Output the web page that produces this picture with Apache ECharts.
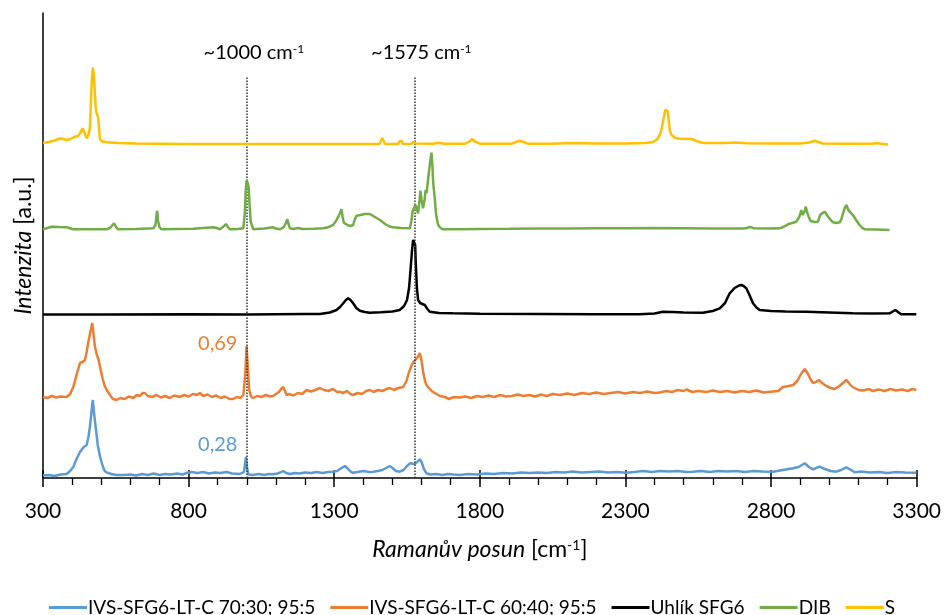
<!DOCTYPE html>
<html>
<head>
<meta charset="utf-8">
<script src="https://cdn.jsdelivr.net/npm/echarts@6/dist/echarts.min.js"></script>
<style>
html,body{margin:0;padding:0;background:#fff;}
#chart{width:944px;height:615px;}
</style>
</head>
<body>
<div id="chart"></div>
<script>
// ---- Data (Raman shift [cm-1], intensity in arbitrary stacked units) ----
const seriesNames = ['IVS-SFG6-LT-C 70:30; 95:5', 'IVS-SFG6-LT-C 60:40; 95:5', 'Uhlík SFG6', 'DIB', 'S'];
const seriesColors = ['#5B9BD5', '#ED7D31', '#000000', '#70AD47', '#FFC000'];
const xTickValues = [300, 800, 1300, 1800, 2300, 2800, 3300];
const markerPositions = [1000, 1575];
const markerTexts = ['~1000 cm{s|-1}', '~1575 cm{s|-1}'];
const ratioTexts = ['0,69', '0,28'];
const ratioPositions = [[900, 139], [900, 38.5]];

const blueSpectrum = [[300,7.5],[320,8],[340,7],[360,8.5],[381,9],[393,12],[404,16],[415,24],[427,31],[440,36],[450,38],[456,46],[461,56],[466,70],[471,83],[476,68],[482,53],[488,38],[496,26],[505,17],[512,12],[519,10.5],[535,9],[550,8],[576,8],[600,8.5],[620,7.5],[640,9],[660,8],[680,9.5],[700,8],[720,9],[740,8.5],[760,9.5],[780,8.5],[793,10],[810,11],[830,10],[850,11],[870,9.5],[890,10.5],[910,10],[930,11],[950,9.5],[976,9],[990,11],[997,26],[1001,15],[1005,8.5],[1020,8],[1040,9],[1060,8],[1075,9],[1090,8.7],[1105,9.5],[1115,10.5],[1125,12],[1135,10],[1148,9],[1165,10],[1180,9.5],[1200,10.5],[1220,10],[1240,11],[1260,10],[1280,11],[1296,11.3],[1310,12],[1325,15],[1337,17],[1348,14],[1358,11],[1365,10.3],[1380,11],[1400,12],[1420,11],[1434,11.3],[1450,12],[1465,13],[1478,15],[1491,17],[1500,15],[1512,12],[1525,11.3],[1538,13],[1550,17],[1560,19.7],[1575,19],[1585,21],[1594,23.7],[1600,21],[1608,14],[1617,9.7],[1630,8.5],[1650,9],[1670,8],[1690,9],[1710,8.5],[1731,8],[1760,9],[1790,8.5],[1820,9.5],[1850,9],[1880,10],[1910,9.5],[1940,10.5],[1970,10],[2000,10.5],[2030,10],[2060,11],[2090,10.5],[2120,11.5],[2150,10.5],[2180,11],[2210,11.5],[2240,10.5],[2270,11],[2304,10.3],[2330,11],[2360,12],[2390,11],[2420,12],[2450,11.5],[2480,12],[2510,11],[2532,11.3],[2560,12],[2590,11],[2620,12],[2650,11.5],[2680,12],[2710,11],[2740,12],[2770,11.5],[2807,11.3],[2840,13],[2876,14.7],[2895,16],[2916,19.7],[2930,16],[2944,13.7],[2955,15],[2967,16.3],[2985,14],[3005,12],[3024,11.3],[3040,13],[3059,15.7],[3075,13],[3087,10.7],[3110,11.5],[3140,10.5],[3170,11],[3200,10],[3230,11],[3260,10.5],[3299,10.3]];

const orangeSpectrum = [[300,86],[315,85],[330,87],[345,85.5],[360,86.5],[381,86],[393,89],[404,96],[415,108],[427,120],[436,121],[444,123],[450,131],[455,140],[462,150],[469,160],[473,150],[478,137],[485,128],[490,124],[496,116],[505,104],[512,97],[519,93],[530,88],[540,84],[553,83],[565,85],[580,84],[595,86.5],[610,85],[622,88],[633,87],[642,90],[650,90],[660,87],[675,86],[690,88],[705,85.5],[720,87],[735,85],[750,87.5],[770,86],[785,88],[800,86.5],[815,89],[830,88],[839,90],[850,87],[865,88.5],[880,86],[895,87.5],[910,85],[925,86.5],[940,84],[953,84],[965,86],[978,85],[988,88],[995,110],[999,137],[1003,118],[1008,93],[1015,86],[1022,85],[1035,87],[1050,86],[1065,88],[1080,86.5],[1090,87],[1100,89],[1110,91],[1118,94],[1125,96],[1131,92],[1136,88],[1145,89],[1160,87.5],[1175,90],[1190,89],[1205,93],[1220,91.5],[1235,93],[1251,95],[1265,93],[1280,92],[1295,94],[1310,91],[1319,91.3],[1330,90],[1345,92],[1355,89],[1365,88],[1380,90],[1395,89],[1410,92],[1422,93],[1435,91],[1450,93],[1465,92],[1480,94],[1491,95],[1505,93],[1520,95],[1537,96],[1548,102],[1556,110],[1566,118],[1575,122],[1585,125],[1594,130],[1600,122],[1606,110],[1612,102],[1617,98],[1625,95],[1635,92],[1645,90],[1663,87],[1680,86],[1695,84],[1710,86],[1731,85.5],[1750,86.5],[1770,85],[1790,87],[1810,86],[1830,87.5],[1850,86],[1870,88],[1890,86.5],[1910,87],[1930,88.5],[1950,87],[1970,88],[1990,86.5],[2010,88.5],[2030,87],[2050,89],[2075,88],[2100,89.5],[2125,88],[2150,90],[2175,89],[2200,90.5],[2225,89],[2250,90],[2275,91],[2300,89.5],[2325,91],[2350,90],[2375,91.5],[2400,90],[2418,90.5],[2440,92],[2460,91],[2480,93],[2500,92],[2510,93.5],[2530,91],[2550,92],[2578,91],[2600,92.5],[2625,91],[2650,92],[2675,90.5],[2700,92],[2725,91],[2750,92.5],[2775,90.5],[2807,91.5],[2825,92],[2841,96],[2860,97],[2876,98],[2890,102],[2905,110],[2916,114],[2925,110],[2935,104],[2944,100],[2955,101],[2965,103],[2975,100],[2990,97],[3005,95],[3019,94],[3035,97],[3047,100],[3059,103],[3070,99],[3080,96],[3087,95],[3100,93],[3116,92.5],[3135,94],[3150,92],[3170,93.5],[3190,92],[3210,94],[3230,92.5],[3250,93.5],[3270,92],[3285,94],[3299,93]];

const blackSpectrum = [[300,168.5],[500,168.5],[800,168.7],[1000,168.5],[1100,168.8],[1200,169],[1251,169],[1285,170.5],[1308,173],[1320,176],[1331,179.7],[1340,183],[1348,184.7],[1356,183],[1365,179.7],[1376,175],[1388,172.3],[1405,171],[1422,170.3],[1460,170.8],[1500,171.5],[1525,173],[1540,177],[1550,183],[1557,195],[1562,213],[1567,232],[1571,243],[1575,245],[1578,238],[1580,220],[1584,195],[1588,183],[1595,180],[1603,179],[1611,178],[1620,174],[1628,171.3],[1660,170],[1708,169.7],[1800,169.2],[2000,169],[2200,168.8],[2349,168.7],[2400,169.5],[2429,171.3],[2460,171],[2500,170.5],[2566,170.3],[2600,172],[2624,174.7],[2642,180],[2658,189.7],[2675,195],[2690,197.5],[2698,198],[2706,197],[2715,194.7],[2726,188],[2738,179.7],[2750,175.5],[2761,173],[2800,172],[2850,171.5],[2921,171.3],[3000,170.5],[3081,169.7],[3150,169.5],[3207,169.7],[3218,171.5],[3227,173],[3236,171],[3247,168.7],[3299,168.7]];

const greenSpectrum = [[300,253.7],[315,255],[330,256.3],[355,256],[381,255.7],[404,253.7],[450,253.8],[519,253.7],[532,255.5],[544,259.7],[551,256],[558,253.7],[620,254],[679,254.7],[686,258],[689,265],[692,272.3],[695,262],[697,259.7],[700,256],[707,253.7],[760,254],[816,254.3],[850,255],[885,255.7],[897,255],[908,253.7],[918,256],[928,259],[935,256],[942,253.7],[970,254],[988,254.7],[993,270],[996,292],[999,302.5],[1003,300],[1006,296.3],[1009,280],[1013,261.3],[1022,253.7],[1060,254.5],[1090,255.7],[1100,254.5],[1114,253.7],[1127,256],[1134,260],[1139,263.7],[1143,259],[1148,254.7],[1160,254],[1175,255],[1190,254],[1230,254.2],[1262,254.7],[1280,255.8],[1296,258],[1306,262],[1314,266.3],[1320,270],[1325,273.7],[1329,266],[1333,260.3],[1345,258],[1355,257],[1365,258],[1371,264],[1377,267.3],[1390,268],[1405,269],[1422,269],[1440,266],[1457,263],[1475,259],[1490,256.5],[1502,255.7],[1530,255],[1560,254.7],[1565,262],[1569,271.3],[1574,275],[1580,278],[1584,273],[1588,269.7],[1592,280],[1596,292.3],[1600,283],[1605,274.7],[1610,283],[1614,293],[1617,290],[1621,300],[1626,313],[1630,322],[1634,330.3],[1637,318],[1640,299.7],[1645,285],[1650,268],[1657,258],[1665,255],[1674,253.7],[1731,253.7],[1800,254],[1900,254.2],[2000,254.5],[2100,254.5],[2200,254.8],[2300,254.8],[2400,255],[2500,254.8],[2600,254.5],[2700,254.5],[2715,254.7],[2727,256.2],[2740,254.8],[2800,254.5],[2830,254.7],[2845,256.5],[2858,258.7],[2872,260],[2887,261.3],[2897,266],[2904,273],[2908,268],[2912,266.3],[2916,272],[2919,276.3],[2923,272],[2927,268],[2935,262.3],[2948,261],[2961,261.3],[2969,268],[2977,270],[2984,271.3],[2990,269],[2996,266.3],[3005,263],[3013,260.7],[3025,260],[3036,260.7],[3042,264],[3047,269.7],[3053,275],[3059,278],[3064,274],[3070,271.3],[3076,270],[3081,268],[3092,263],[3104,258],[3112,255.5],[3121,253.7],[3160,253.5],[3207,253]];

const yellowSpectrum = [[300,340],[320,341],[340,342.5],[358,344.7],[370,344],[381,343],[395,344],[410,346.3],[420,347],[428,350],[436,354.7],[443,350],[450,344.7],[456,348],[461,355],[465,385],[468,405],[471,415.5],[474,410],[478,391],[481,375],[484,370],[487,369],[490,365],[493,352],[496,343],[505,341.5],[519,340.7],[560,340],[620,339.5],[700,339.3],[800,339],[900,339],[1000,339],[1100,339],[1200,339],[1300,339],[1400,339],[1455,339],[1460,342],[1465,345],[1470,342],[1475,339],[1520,339],[1525,342],[1528,344],[1532,342],[1536,339],[1565,339.2],[1573,341],[1580,339.5],[1640,339.2],[1656,340.3],[1680,339.3],[1750,339.3],[1765,341.5],[1774,344],[1783,341.5],[1800,339.3],[1910,339.3],[1925,341],[1937,342.3],[1950,341],[1965,339.3],[2050,339.3],[2115,340],[2200,339.5],[2300,339.6],[2370,340],[2395,341],[2410,344],[2418,348],[2425,355],[2432,366],[2437,373],[2441,375],[2445,372],[2449,362],[2452,353],[2458,348],[2464,346],[2472,345],[2481,344.5],[2500,344.2],[2515,344],[2527,344],[2545,342],[2560,340.5],[2573,340],[2640,340],[2681,340.5],[2720,339.8],[2800,339.6],[2900,339.5],[2930,340.5],[2950,342.3],[2963,341],[2977,339.5],[3050,339.3],[3150,339.3],[3163,340],[3167,341.5],[3172,339.5],[3202,338.5]];

const spectra = [blueSpectrum, orangeSpectrum, blackSpectrum, greenSpectrum, yellowSpectrum];

// ---- Chart ----
const FONT = 'Lato';
const chart = echarts.init(document.getElementById('chart'), null, {renderer: 'canvas'});

const series = spectra.map((d, i) => ({
  name: seriesNames[i],
  type: 'line',
  data: d,
  showSymbol: false,
  symbol: 'none',
  silent: true,
  lineStyle: {color: seriesColors[i], width: 2.5},
  itemStyle: {color: seriesColors[i]},
  z: 2 + i
}));

// dotted marker lines with labels (attached to black series)
series[2].markLine = {
  silent: true,
  symbol: ['none', 'none'],
  lineStyle: {type: 'dotted', color: '#333', width: 1.5},
  label: {
    show: true, position: 'end', distance: 14, color: '#000', offset: [7, 0],
    fontFamily: FONT, fontSize: 20,
    rich: {s: {fontSize: 12, verticalAlign: 'top', fontFamily: FONT, color: '#000'}}
  },
  data: markerPositions.map((x, k) => [
    {coord: [x, 5]},
    {coord: [x, 406], label: {formatter: markerTexts[k]}}
  ])
};
series[1].markPoint = {
  silent: true, symbol: 'circle', symbolSize: 1,
  itemStyle: {color: 'rgba(0,0,0,0)'},
  label: {show: true, position: 'inside', color: seriesColors[1], fontFamily: FONT, fontSize: 20, formatter: ratioTexts[0]},
  data: [{coord: ratioPositions[0]}]
};
series[0].markPoint = {
  silent: true, symbol: 'circle', symbolSize: 1,
  itemStyle: {color: 'rgba(0,0,0,0)'},
  label: {show: true, position: 'inside', color: seriesColors[0], fontFamily: FONT, fontSize: 20, formatter: ratioTexts[1]},
  data: [{coord: ratioPositions[1]}]
};

const option = {
  animation: false,
  backgroundColor: '#fff',
  textStyle: {fontFamily: FONT},
  grid: {left: 43, right: 27, top: 13, bottom: 137, containLabel: false},
  legend: {
    data: seriesNames,
    left: 'center', top: 593,
    icon: 'rect', itemWidth: 38, itemHeight: 3, itemGap: 15,
    textStyle: {fontFamily: FONT, fontSize: 19, color: '#000', padding: [0, 0, 0, -4]}
  },
  xAxis: [{
    type: 'value', min: xTickValues[0], max: xTickValues[xTickValues.length - 1], interval: 500,
    name: '{i|Ramanův posun} [cm{s|-1}]',
    nameLocation: 'middle', nameGap: 60,
    nameTextStyle: {
      fontFamily: FONT, fontSize: 23, color: '#000',
      rich: {i: {fontStyle: 'italic', fontSize: 23, fontFamily: FONT}, s: {fontSize: 14, verticalAlign: 'top', fontFamily: FONT}}
    },
    axisLine: {show: true, lineStyle: {color: '#000', width: 1.5}},
    axisTick: {show: true, inside: false, length: 9, lineStyle: {color: '#000', width: 1.5}},
    minorTick: {show: true, splitNumber: 5, length: 7, lineStyle: {color: '#000', width: 1.3}},
    axisLabel: {fontFamily: FONT, fontSize: 21, color: '#000', margin: 23, formatter: v => String(v)},
    splitLine: {show: false}, minorSplitLine: {show: false}
  }, {
    type: 'value', position: 'bottom', offset: 0,
    min: xTickValues[0], max: xTickValues[xTickValues.length - 1], interval: 500,
    axisLine: {show: false},
    axisTick: {show: true, inside: true, length: 8, lineStyle: {color: '#000', width: 1.5}},
    axisLabel: {show: false}, splitLine: {show: false}
  }],
  yAxis: {
    type: 'value', min: 5, max: 470,
    name: '{i|Intenzita} [a.u.]',
    nameLocation: 'middle', nameGap: 8, nameRotate: 90,
    nameTextStyle: {fontFamily: FONT, fontSize: 23, color: '#000', rich: {i: {fontStyle: 'italic', fontSize: 23, fontFamily: FONT}}},
    axisLine: {show: true, lineStyle: {color: '#000', width: 1.5}},
    axisTick: {show: false}, axisLabel: {show: false}, splitLine: {show: false}
  },
  series: series
};
chart.setOption(option);
</script>
</body>
</html>
